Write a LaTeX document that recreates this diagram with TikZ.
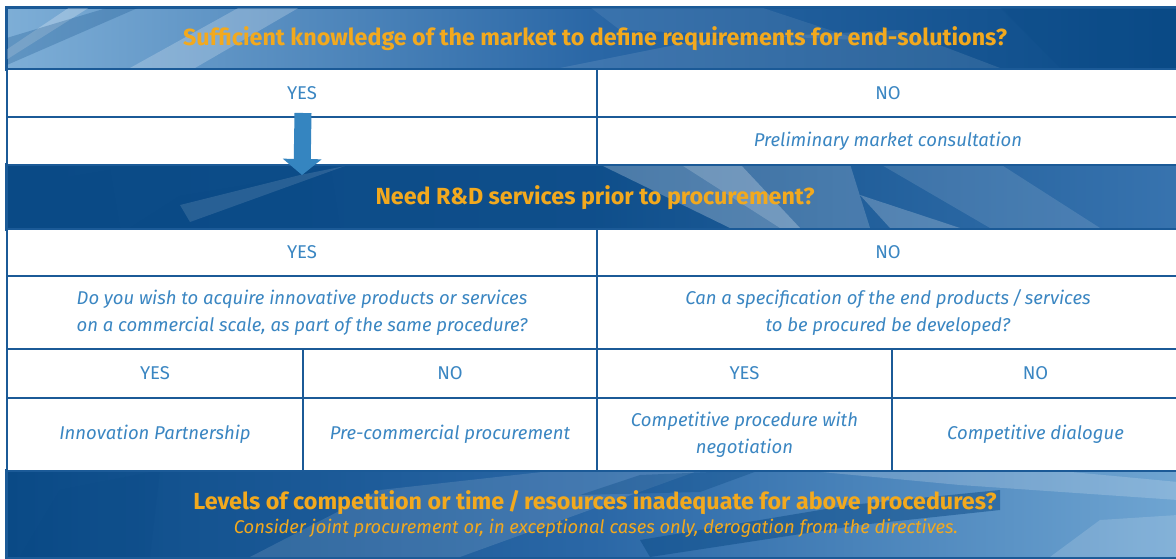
\documentclass[tikz,border=0pt]{standalone}
\usepackage{fontspec}
\setmainfont{Fira Sans}
\usetikzlibrary{arrows.meta,calc}

\definecolor{frame}{HTML}{1B5A97}
\definecolor{qyellow}{HTML}{F2A91E}
\definecolor{cellblue}{HTML}{3A86C2}
\definecolor{arrowblue}{HTML}{3585C0}
\definecolor{banddark}{HTML}{0A4A86}
\definecolor{bandmid}{HTML}{2A67A6}
\definecolor{bandlight}{HTML}{6FA5D2}

\tikzset{
  cell/.style={draw=frame, line width=2pt, fill=white, rectangle, inner sep=0pt,
    anchor=north west, text=cellblue, align=center,
    font=\fontsize{18.5}{27}\selectfont},
  answer/.style={cell},
  outcome/.style={cell, font=\fontsize{18.5}{27}\selectfont\itshape},
  band/.style={draw=frame, line width=2pt, rectangle, inner sep=0pt, anchor=north west},
  question/.style={text=qyellow, font=\fontsize{23.3}{27}\selectfont\bfseries, inner sep=0pt},
  hint/.style={text=qyellow, font=\fontsize{18.4}{22}\selectfont\itshape, inner sep=0pt},
  streak/.style={fill=white, fill opacity=#1, draw=none},
  streak/.default=0.18,
  shade/.style={fill=banddark, fill opacity=#1, draw=none},
  shade/.default=0.35,
}

\begin{document}
\begin{tikzpicture}[x=1pt,y=-1pt]
\useasboundingbox (0,0) rectangle (1176,559);
\fill[white] (0,0) rectangle (1176,559);

% ---- question bands ----
\node[band, minimum width=1172pt, minimum height=61pt, left color=bandlight!90!white, right color=banddark,
      middle color=bandmid] (band1) at (6,7) {};
\node[band, minimum width=1172pt, minimum height=64pt, left color=banddark, right color=bandmid!80!bandlight,
      middle color=banddark!85!bandmid] (band2) at (6,164) {};
\node[band, minimum width=1172pt, minimum height=87pt, left color=banddark, right color=bandlight,
      middle color=bandmid] (band3) at (6,470) {};

% translucent streaks over the bands
\begin{scope}
  \clip (band1.north west) rectangle (band1.south east);
  \fill[streak=0.25] (6,60) -- (6,50) -- (70,7) -- (90,7) -- cycle;
  \fill[streak=0.22] (130,68) -- (195,68) -- (300,7) -- (240,7) -- cycle;
  \fill[shade=0.25] (0,68) -- (0,40) -- (110,7) -- (140,7) -- cycle;
  \fill[streak=0.10] (560,68) -- (700,40) -- (900,30) -- (1000,68) -- cycle;
  \fill[streak=0.08] (590,7) -- (760,7) -- (860,40) -- (620,30) -- cycle;
  \fill[shade=0.25] (1000,7) -- (1178,7) -- (1178,68) -- (1060,68) -- cycle;
\end{scope}
\begin{scope}
  \clip (band2.north west) rectangle (band2.south east);
  \fill[shade=0.3] (30,228) -- (40,182) -- (110,170) -- (120,228) -- cycle;
  \fill[shade=0.2] (130,228) -- (180,196) -- (300,176) -- (330,164) -- (340,228) -- cycle;
  \fill[streak=0.12] (180,205) -- (300,175) -- (345,166) -- (190,222) -- cycle;
  \fill[streak=0.25] (603,166) -- (740,164) -- (800,228) -- (730,228) -- cycle;
  \fill[streak=0.18] (680,164) -- (850,164) -- (870,228) -- (780,228) -- cycle;
  \fill[streak=0.22] (860,195) -- (960,228) -- (890,228) -- cycle;
  \fill[streak=0.12] (880,164) -- (1000,164) -- (1100,228) -- (990,228) -- cycle;
\end{scope}
\begin{scope}
  \clip (band3.north west) rectangle (band3.south east);
  \fill[shade=0.2] (20,557) -- (60,490) -- (160,470) -- (150,557) -- cycle;
  \fill[streak=0.12] (250,557) -- (380,490) -- (560,470) -- (700,470) -- (460,557) -- cycle;
  \fill[shade=0.5] (640,540) -- (850,505) -- (1000,490) -- (1000,510) -- (860,525) -- (650,557) -- cycle;
  \fill[shade=0.35] (580,495) -- (640,475) -- (760,470) -- (700,492) -- cycle;
  \fill[streak=0.18] (800,470) -- (1050,470) -- (1178,482) -- (1178,500) -- (960,485) -- cycle;
  \fill[streak=0.15] (1050,557) -- (1100,520) -- (1178,515) -- (1178,557) -- cycle;
\end{scope}
% redraw the band outlines above the streaks
\foreach \b in {band1,band2,band3}
  \draw[frame, line width=2pt] (\b.north west) rectangle (\b.south east);

% ---- first decision ----
\node[answer, minimum width=590pt, minimum height=48pt] (yes1) at (6,68) {YES};
\node[answer, minimum width=582pt, minimum height=48pt] (no1) at (596,68) {NO};
\node[outcome, minimum width=590pt, minimum height=48pt] (empty1) at (6,116) {};
\node[outcome, minimum width=582pt, minimum height=48pt] (pmc) at (596,116) {Preliminary market consultation};

% ---- second decision ----
\node[answer, minimum width=590pt, minimum height=47pt] (yes2) at (6,228) {YES};
\node[answer, minimum width=582pt, minimum height=47pt] (no2) at (596,228) {NO};
\node[outcome, minimum width=590pt, minimum height=73pt] (q1) at (6,275)
  {Do you wish to acquire innovative products or services\\on a commercial scale, as part of the same procedure?};
\node[outcome, minimum width=582pt, minimum height=73pt] (q2) at (596,275)
  {Can a specification of the end products\,/\,services\\to be procured be developed?};

% ---- third level answers ----
\node[answer, minimum width=296pt, minimum height=49pt] (yes3a) at (6,348) {YES};
\node[answer, minimum width=294pt, minimum height=49pt] (no3a) at (302,348) {NO};
\node[answer, minimum width=295pt, minimum height=49pt] (yes3b) at (596,348) {YES};
\node[answer, minimum width=287pt, minimum height=49pt] (no3b) at (891,348) {NO};

% ---- procedures ----
\node[outcome, minimum width=296pt, minimum height=73pt] (ip) at (6,397) {Innovation Partnership};
\node[outcome, minimum width=294pt, minimum height=73pt] (pcp) at (302,397) {Pre-commercial procurement};
\node[outcome, minimum width=295pt, minimum height=73pt] (cpn) at (596,397) {Competitive procedure with\\negotiation};
\node[outcome, minimum width=287pt, minimum height=73pt] (cd) at (891,397) {Competitive dialogue};

% ---- question texts ----
\node[question] (t1) at (595,39) {Sufficient knowledge of the market to define requirements for end-solutions?};
\node[question] (t2) at (595,198) {Need R\&D services prior to procurement?};
\node[question] (t3) at (595,503) {Levels of competition or time\,/\,resources inadequate for above procedures?};
\node[hint] (t4) at (596,528) {Consider joint procurement or, in exceptional cases only, derogation from the directives.};

% ---- YES path arrow ----
\draw[arrowblue, line width=17pt, -{Triangle[width=38pt,length=16pt]}]
  ($(yes1.south)+(1,-5)$) -- ($(band2.north)+(-291,11)$);
\end{tikzpicture}
\end{document}
